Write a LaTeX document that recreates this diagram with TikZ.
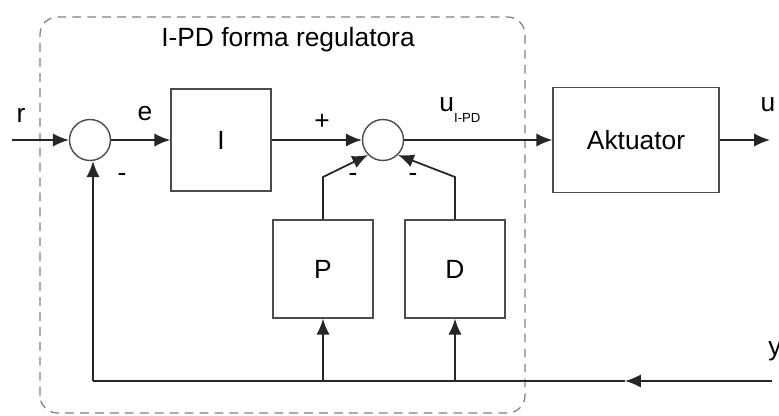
\documentclass[tikz,border=0pt]{standalone}
\usepackage{fontspec}
\setmainfont{Liberation Sans}
\usetikzlibrary{positioning, calc, arrows.meta}

\tikzset{
    blok/.style={draw=black!70, line width=0.8pt, minimum width=2cm, minimum height=2cm},
    suma/.style={draw=black!70, line width=0.8pt, circle, minimum size=0.82cm, inner sep=0pt},
    veza/.style={line width=1pt, black!85},
    strelica/.style={veza, -{Latex[length=9pt,width=7.5pt]}},
    oznaka/.style={font=\fontsize{15}{18}\selectfont}
}

\begin{document}
\begin{tikzpicture}[oznaka]

    \useasboundingbox (0,0) rectangle (15.58,8.3);

    % --- I-PD regulator frame ---
    \draw[black!50, dash pattern=on 5pt off 3.5pt, line width=0.7pt, rounded corners=0.35cm] (0.8,0.04) rectangle (10.5,7.96);
    \node (naslov) at (5.76,7.5) {I-PD forma regulatora};

    % --- Forward path ---
    \coordinate (ulaz) at (0.24,5.5);
    \node[suma] (s1) at (1.8,5.5) {};
    \node[blok, minimum height=2.04cm] (I) at (4.42,5.5) {I};
    \node[suma] (s2) at (7.66,5.5) {};
    \node[blok, minimum width=3.32cm, minimum height=2.1cm] (akt) at (12.72,5.5) {Aktuator};
    \coordinate (izlaz) at (15.4,5.5);

    \draw[strelica] (ulaz) -- (s1);
    \draw[strelica] (s1) -- (I);
    \draw[strelica] (I) -- (s2);
    \draw[strelica] (s2) -- (akt);
    \draw[strelica] (akt) -- (izlaz);

    % --- P and D blocks ---
    \node[blok, minimum height=1.96cm] (P) at (6.46,2.92) {P};
    \node[blok, minimum height=1.96cm] (D) at (9.1,2.92) {D};
    \coordinate (lomP) at (6.46,4.76);
    \coordinate (lomD) at (9.1,4.76);

    \draw[strelica] (P.north) -- (lomP) -- (s2.south west);
    \draw[strelica] (D.north) -- (lomD) -- (s2.south east);

    % --- Feedback ---
    \coordinate (yul) at (15.44,0.68);
    \coordinate (fbm) at (12.5,0.68);
    \coordinate (fbl) at (1.86,0.68);
    \coordinate (fbP) at (6.46,0.68);
    \coordinate (fbD) at (9.1,0.68);

    \draw[strelica] (yul) -- (fbm);
    \draw[veza] (fbm) -- (fbl);
    \draw[strelica] (fbl) -- (fbl|-s1.south);
    \draw[strelica] (fbP) -- (P.south);
    \draw[strelica] (fbD) -- (D.south);

    % --- Signal labels ---
    \node (r) at (0.42,6.0) {r};
    \node (e) at (2.9,6.02) {e};
    \node (plus) at (6.44,5.86) {+};
    \node (uipd) at (9.2,6.1) {u\raisebox{-0.75ex}{\fontsize{7.5}{9}\selectfont I-PD}};
    \node (u) at (15.36,6.2) {u};
    \node (y) at (15.5,1.28) {y};
    \node (m1) at (2.44,4.76) {-};
    \node (mP) at (7.06,4.76) {-};
    \node (mD) at (8.26,4.76) {-};

\end{tikzpicture}
\end{document}
